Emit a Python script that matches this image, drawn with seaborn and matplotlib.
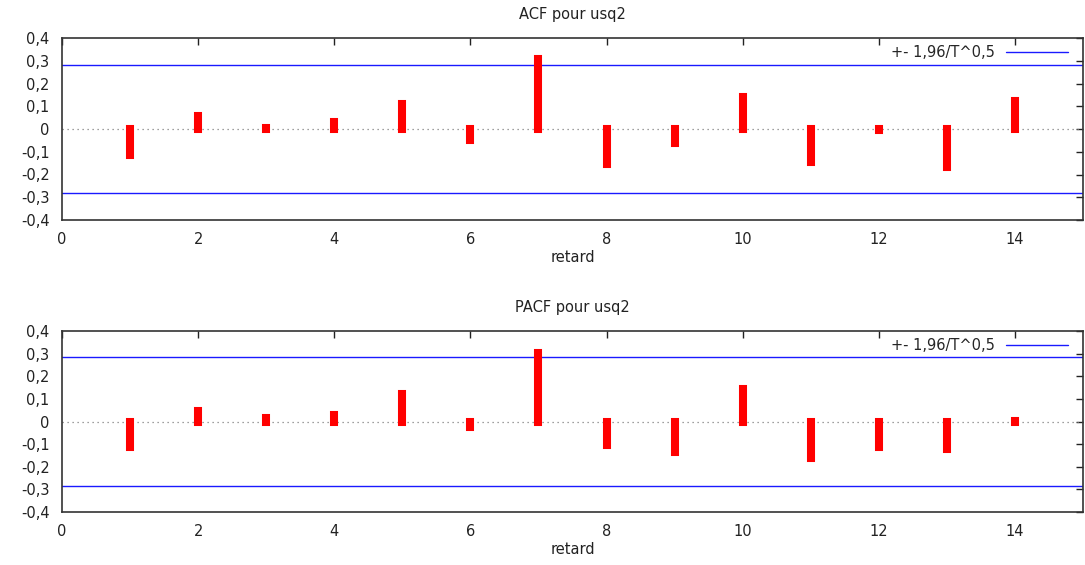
import numpy as np
import matplotlib
matplotlib.use("Agg")
import matplotlib.pyplot as plt
import seaborn as sns
import pandas as pd
from matplotlib.ticker import FuncFormatter

lags = [1, 2, 3, 4, 5, 6, 7, 8, 9, 10, 11, 12, 13, 14]
acf_vals = [-0.114, 0.057, 0.004, 0.030, 0.111, -0.048, 0.309, -0.154, -0.063, 0.142, -0.143, -0.005, -0.165, 0.121]
pacf_vals = [-0.112, 0.047, 0.015, 0.029, 0.123, -0.025, 0.302, -0.102, -0.134, 0.145, -0.163, -0.114, -0.120, 0.004]
bound = 0.2835
titles = ["ACF pour usq2", "PACF pour usq2"]
xlabel = "retard"
legend_label = "+- 1,96/T^0,5"
yticks = [-0.4, -0.3, -0.2, -0.1, 0, 0.1, 0.2, 0.3, 0.4]
xticks = [0, 2, 4, 6, 8, 10, 12, 14]

sns.set_style("white")
plt.rcParams['font.family'] = ['DejaVu Sans']

W, H = 1085, 565
fig = plt.figure(figsize=(W / 100, H / 100), dpi=100)

def fmt(v, pos):
    if abs(v) < 1e-9:
        return "0"
    return ("%.1f" % v).replace(".", ",")

FS = 10.5
boxes = [(62, 38, 1083, 220), (62, 331, 1083, 512)]
for (x0, y0, x1, y1), vals, title in zip(boxes, [acf_vals, pacf_vals], titles):
    ax = fig.add_axes([x0 / W, 1 - y1 / H, (x1 - x0) / W, (y1 - y0) / H])
    df = pd.DataFrame({"lag": lags, "val": vals})
    ax.axhline(0, color="#808080", lw=0.9, ls=(0, (1, 3)), zorder=1)
    lc = ax.vlines(df["lag"], 0, df["val"], color="#ff0000", lw=5.8, zorder=3)
    lc.set_capstyle("projecting")
    ax.axhline(bound, color="#1a1aff", lw=1.0, zorder=2, label=legend_label)
    ax.axhline(-bound, color="#1a1aff", lw=1.0, zorder=2)
    ax.set_xlim(0, 15)
    ax.set_ylim(-0.4, 0.4)
    ax.set_xticks(xticks)
    ax.set_yticks(yticks)
    ax.yaxis.set_major_formatter(FuncFormatter(fmt))
    ax.tick_params(direction="in", length=5, width=1, top=True, right=True,
                   labelsize=FS, colors="#222222")
    ax.tick_params(axis="y", pad=9)
    ax.tick_params(axis="x", pad=9)
    for s in ax.spines.values():
        s.set_color("#333333")
        s.set_linewidth(1.2)
    ax.set_title(title, fontsize=FS, pad=14, color="#222222")
    ax.set_xlabel(xlabel, fontsize=FS, labelpad=2, color="#222222")
    ax.legend(loc="upper right", frameon=False, fontsize=FS, handlelength=4.2,
              borderaxespad=0.1, bbox_to_anchor=(0.992, 1.0), markerfirst=False)

fig.savefig("out.png", dpi=100)
